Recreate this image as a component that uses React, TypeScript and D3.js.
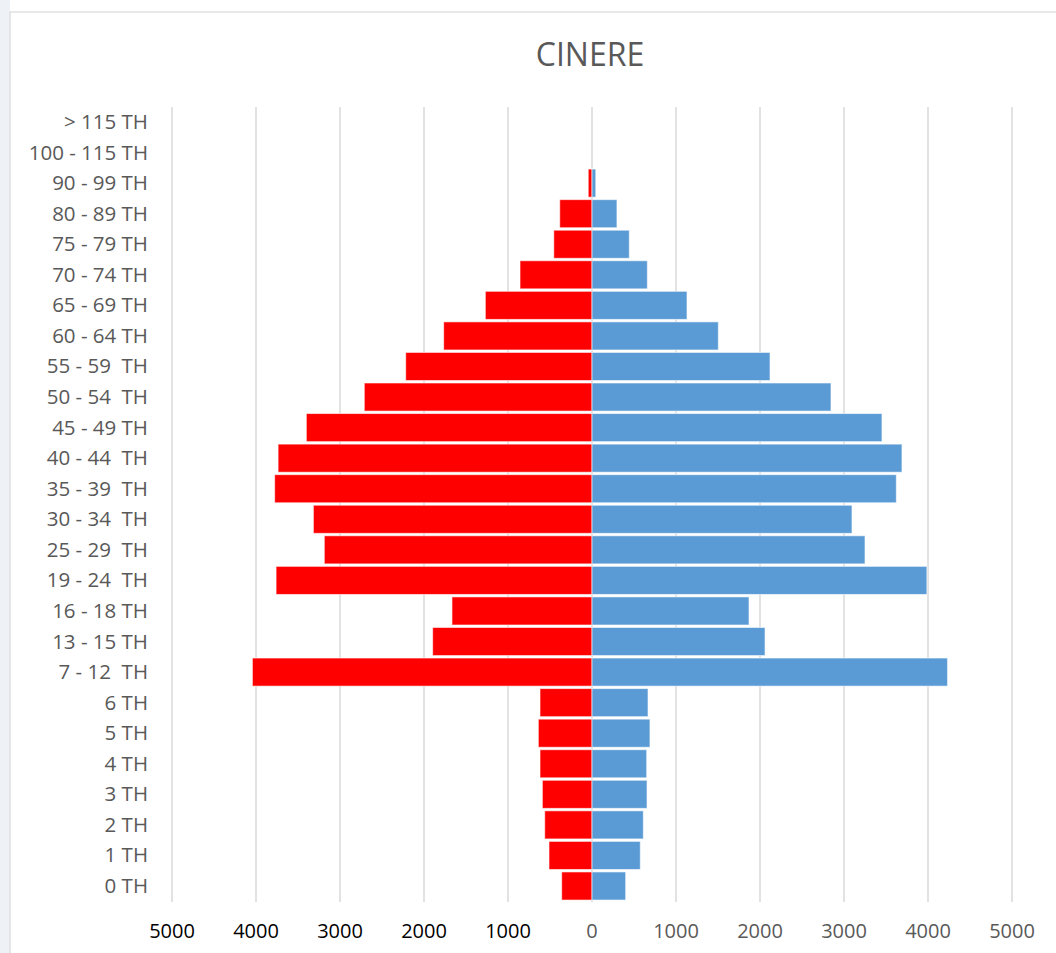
import React from "react";
import * as d3 from "d3";

const categories = [
  "> 115 TH", "100 - 115 TH", "90 - 99 TH", "80 - 89 TH", "75 - 79 TH", "70 - 74 TH",
  "65 - 69 TH", "60 - 64 TH", "55 - 59  TH", "50 - 54  TH", "45 - 49 TH", "40 - 44  TH",
  "35 - 39  TH", "30 - 34  TH", "25 - 29  TH", "19 - 24  TH", "16 - 18 TH", "13 - 15 TH",
  "7 - 12  TH", "6 TH", "5 TH", "4 TH", "3 TH", "2 TH", "1 TH", "0 TH",
];

const leftValues = [
  0, 0, 45, 384, 455, 857, 1270, 1766, 2218, 2711, 3401, 3737, 3778, 3317, 3187, 3761,
  1667, 1897, 4043, 619, 639, 619, 591, 563, 512, 361,
];

const rightValues = [
  0, 0, 45, 297, 444, 659, 1131, 1504, 2119, 2845, 3452, 3690, 3623, 3095, 3250, 3987,
  1869, 2060, 4233, 667, 690, 651, 655, 611, 575, 401,
];

const tickValues = [-5000, -4000, -3000, -2000, -1000, 0, 1000, 2000, 3000, 4000, 5000];

const W = 1056;
const H = 953;
const FONT = "'Open Sans', 'Noto Sans', sans-serif";

export default function App() {
  const x = d3.scaleLinear().domain([-5000, 5000]).range([172, 1012]);
  const y = d3.scaleBand<string>().domain(categories).range([105.5, 902.5]).padding(0.08);
  const [gTop, gBot] = [107, 902];

  return (
    <svg
      width={W}
      height={H}
      style={{ position: "absolute", left: 0, top: 0, background: "#fff" }}
    >
      <rect x={0} y={0} width={W} height={H} fill="#fff" />
      <rect x={0} y={0} width={10} height={H} fill="#eef1f5" />
      <rect x={10} y={12} width={W} height={H} fill="#fff" stroke="#d9d9d9" strokeWidth={1.2} />

      <text
        x={590}
        y={66}
        textAnchor="middle"
        fontFamily={FONT}
        fontSize={32}
        fill="#595959"
      >
        CINERE
      </text>

      {tickValues.map((t) => (
        <line
          key={"g" + t}
          x1={x(t)}
          x2={x(t)}
          y1={gTop}
          y2={gBot}
          stroke="#d9d9d9"
          strokeWidth={1.5}
        />
      ))}

      {categories.map((c, i) => (
        <g key={c}>
          {leftValues[i] > 0 && (
            <rect
              x={x(-leftValues[i])}
              y={y(c)}
              width={x(0) - x(-leftValues[i])}
              height={y.bandwidth()}
              fill="#FF0000"
              stroke="#fff"
              strokeOpacity={0.6}
              strokeWidth={1}
            />
          )}
          {rightValues[i] > 0 && (
            <rect
              x={x(0)}
              y={y(c)}
              width={x(rightValues[i]) - x(0)}
              height={y.bandwidth()}
              fill="#5B9BD5"
              stroke="#fff"
              strokeOpacity={0.6}
              strokeWidth={1}
            />
          )}
        </g>
      ))}

      {categories.map((c) => (
        <text
          key={"l" + c}
          x={148}
          y={(y(c) as number) + y.bandwidth() / 2 + 7}
          textAnchor="end"
          fontFamily={FONT}
          fontSize={20.5}
          fill="#595959"
          style={{ whiteSpace: "pre" }}
        >
          {c}
        </text>
      ))}

      {tickValues.map((t) => (
        <text
          key={"t" + t}
          x={x(t)}
          y={938}
          textAnchor="middle"
          fontFamily={FONT}
          fontSize={20}
          fill={t < 0 ? "#000" : "#595959"}
        >
          {Math.abs(t)}
        </text>
      ))}
    </svg>
  );
}
